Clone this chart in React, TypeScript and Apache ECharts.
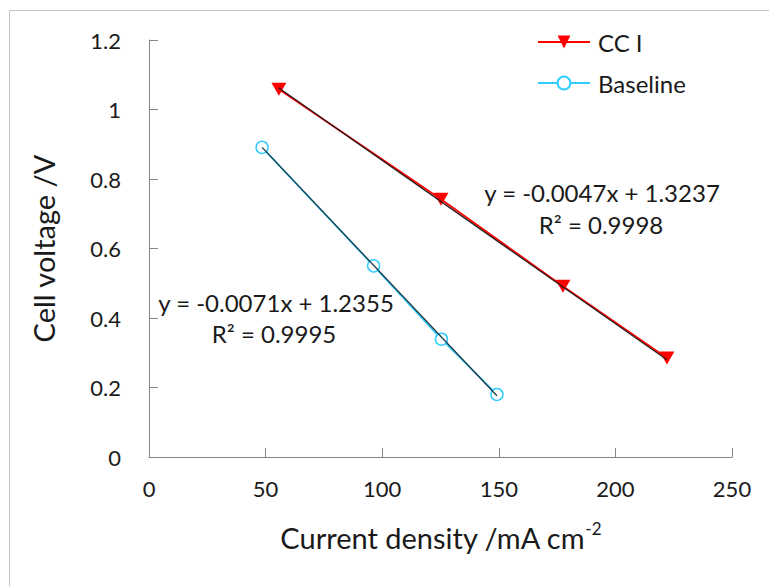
import React, { useEffect, useRef } from "react";
import * as echarts from "echarts";

// Polarisation data: current density (mA cm-2) vs cell voltage (V)
const ccCurrent = [55.7, 125.2, 177.5, 222.1];
const ccVoltage = [1.058, 0.742, 0.4915, 0.285];
const baseCurrent = [48.5, 96.3, 125.4, 149.2];
const baseVoltage = [0.891, 0.55, 0.339, 0.18];

// Linear fits shown on the chart
const ccSlope = -0.0047;
const ccIntercept = 1.3237;
const ccR2 = "0.9998";
const baseSlope = -0.0071;
const baseIntercept = 1.2355;
const baseR2 = "0.9995";

const seriesNames = ["CC I", "Baseline"];
const xTicks = [0, 50, 100, 150, 200, 250];
const yTicks = [0, 0.2, 0.4, 0.6, 0.8, 1, 1.2];

const FONT = "Lato, 'Open Sans', sans-serif";
const TEXT = "#1a1a1a";
const AXIS = "#868686";

const pairs = (xs: number[], ys: number[]) => xs.map((x, i) => [x, ys[i]]);
const fitLine = (xs: number[], m: number, b: number) => {
  const lo = Math.min(...xs);
  const hi = Math.max(...xs);
  return [
    [lo, m * lo + b],
    [hi, m * hi + b],
  ];
};
const eq = (m: number, b: number) =>
  `y = ${m.toFixed(4)}x + ${b.toFixed(4)}`;

export default function App() {
  const ref = useRef<HTMLDivElement>(null);

  useEffect(() => {
    if (!ref.current) return;
    const chart = echarts.init(ref.current, null, { renderer: "svg" });

    const axisCommon = {
      axisLine: { show: true, lineStyle: { color: AXIS, width: 1 } },
      axisTick: { show: true, inside: true, length: 9, lineStyle: { color: AXIS } },
      splitLine: { show: false },
    };

    const eqStyle = { fontFamily: FONT, fontSize: 24, fill: TEXT, align: "center", verticalAlign: "middle" };

    chart.setOption({
      animation: false,
      backgroundColor: "#ffffff",
      grid: { left: 149, right: 37, top: 40, bottom: 129, containLabel: false },
      xAxis: {
        type: "value",
        min: xTicks[0],
        max: xTicks[xTicks.length - 1],
        interval: xTicks[1] - xTicks[0],
        ...axisCommon,
        axisLabel: { fontFamily: FONT, fontSize: 22, color: TEXT, margin: 20 },
        name: "Current density /mA cm{sup|-2}",
        nameLocation: "middle",
        nameGap: 63,
        nameTextStyle: {
          fontFamily: FONT,
          fontSize: 29,
          color: TEXT,
          lineHeight: 34,
          rich: {
            sup: { fontFamily: FONT, fontSize: 17, color: TEXT, verticalAlign: "top", lineHeight: 34, padding: [0, 0, 14, 0] },
          },
        },
      },
      yAxis: {
        type: "value",
        min: yTicks[0],
        max: yTicks[yTicks.length - 1],
        interval: 0.2,
        ...axisCommon,
        axisLabel: {
          fontFamily: FONT,
          fontSize: 22,
          color: TEXT,
          margin: 28,
          formatter: (v: number) => String(Math.round(v * 10) / 10),
        },
        name: "Cell voltage /V",
        nameLocation: "middle",
        nameGap: 91,
        nameTextStyle: { fontFamily: FONT, fontSize: 29, color: TEXT },
      },
      legend: {
        data: seriesNames,
        orient: "vertical",
        left: 537,
        top: 28,
        padding: 0,
        itemWidth: 52,
        itemHeight: 16,
        itemGap: 13,
        textStyle: { fontFamily: FONT, fontSize: 24, lineHeight: 28, color: TEXT, padding: [0, 0, 0, 3] },
      },
      series: [
        {
          name: seriesNames[0],
          type: "line",
          data: pairs(ccCurrent, ccVoltage),
          lineStyle: { color: "#ff0000", width: 1.8 },
          itemStyle: { color: "#ff0000" },
          symbol: "triangle",
          symbolRotate: 180,
          symbolSize: [15, 13],
          showSymbol: true,
          z: 3,
        },
        {
          name: seriesNames[1],
          type: "line",
          data: pairs(baseCurrent, baseVoltage),
          lineStyle: { color: "#33ccff", width: 1.8 },
          itemStyle: { color: "#ffffff", borderColor: "#33ccff", borderWidth: 1.5 },
          symbol: "circle",
          symbolSize: 12,
          showSymbol: true,
          z: 3,
        },
        {
          name: "CC I fit",
          type: "line",
          data: fitLine(ccCurrent, ccSlope, ccIntercept),
          symbol: "none",
          lineStyle: { color: "#2a1a1a", width: 1.3 },
          silent: true,
          z: 4,
        },
        {
          name: "Baseline fit",
          type: "line",
          data: fitLine(baseCurrent, baseSlope, baseIntercept),
          symbol: "none",
          lineStyle: { color: "#1f3a44", width: 1.3 },
          silent: true,
          z: 4,
        },
      ],
      graphic: [
        {
          type: "rect",
          shape: { x: 9.5, y: 10.5, width: 800, height: 620 },
          style: { fill: "none", stroke: "#c4c4c4", lineWidth: 1 },
          silent: true,
          z: -1,
        },
        { type: "text", x: 602, y: 192, style: { ...eqStyle, text: eq(ccSlope, ccIntercept) } },
        { type: "text", x: 601, y: 224, style: { ...eqStyle, text: `R² = ${ccR2}` } },
        { type: "text", x: 276, y: 302, style: { ...eqStyle, text: eq(baseSlope, baseIntercept) } },
        { type: "text", x: 274, y: 333, style: { ...eqStyle, text: `R² = ${baseR2}` } },
      ],
    });

    return () => chart.dispose();
  }, []);

  return (
    <div
      ref={ref}
      style={{ position: "fixed", left: 0, top: 0, width: 769, height: 586 }}
    />
  );
}
